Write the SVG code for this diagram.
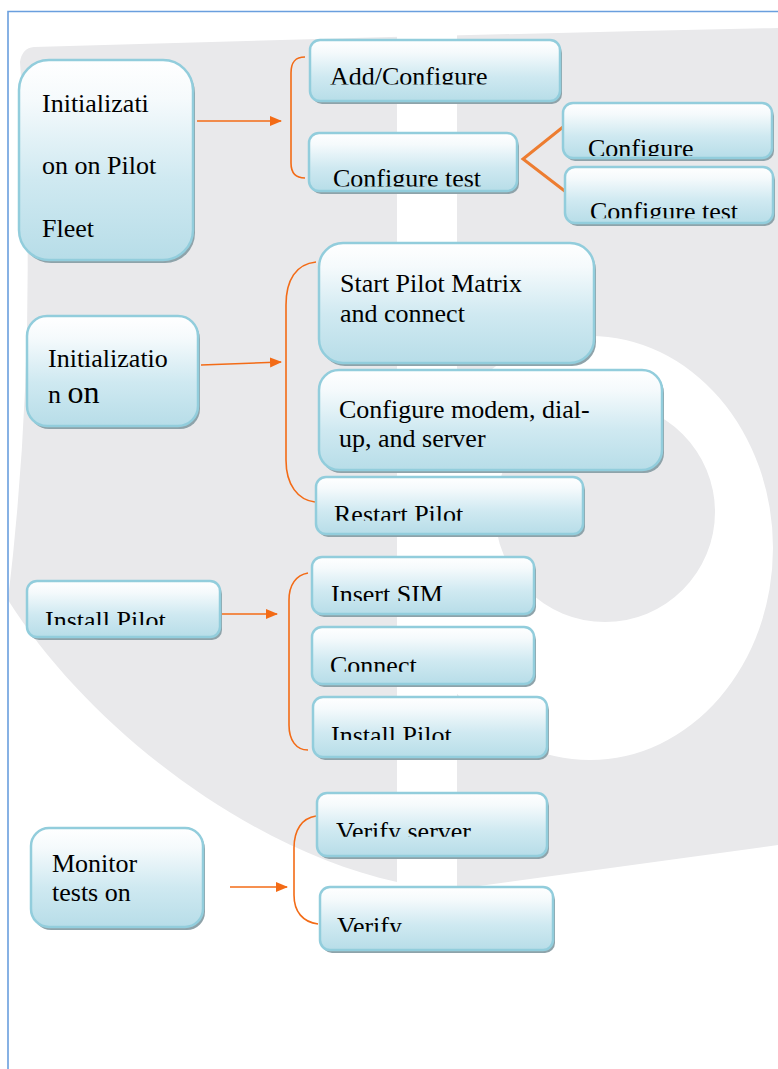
<svg xmlns="http://www.w3.org/2000/svg" width="778" height="1069" viewBox="0 0 778 1069">
<style>
.box{fill:url(#g);stroke:#92cddc;stroke-width:2.5}
.sh{fill:#8ea3aa}
.t{font-family:"Liberation Serif","Times New Roman",serif;font-size:26px;fill:#000}
.ln{fill:none;stroke:#f36b16;stroke-width:1.6}
.v{fill:none;stroke:#ed7d31;stroke-width:3}
</style>
<defs>
<linearGradient id="g" x1="0" y1="0" x2="0" y2="1">
<stop offset="0" stop-color="#ffffff"/>
<stop offset="0.2" stop-color="#f5fafc"/>
<stop offset="0.6" stop-color="#cfe9f1"/>
<stop offset="1" stop-color="#b7dde8"/>
</linearGradient>
<marker id="ah" markerUnits="userSpaceOnUse" markerWidth="12" markerHeight="12" viewBox="0 0 12 12" refX="11" refY="6" orient="auto">
<path d="M0,1 L12,6 L0,11 Z" fill="#f36b16"/>
</marker>
<clipPath id="c1"><rect x="300" y="0" width="300" height="84.5"/></clipPath>
<clipPath id="c2"><rect x="300" y="100" width="250" height="86.5"/></clipPath>
<clipPath id="c3"><rect x="560" y="100" width="218" height="56"/></clipPath>
<clipPath id="c4"><rect x="560" y="160" width="218" height="58.3"/></clipPath>
<clipPath id="c5"><rect x="300" y="470" width="300" height="50.7"/></clipPath>
<clipPath id="c6"><rect x="0" y="570" width="260" height="55"/></clipPath>
<clipPath id="c7"><rect x="300" y="550" width="260" height="51"/></clipPath>
<clipPath id="c8"><rect x="300" y="620" width="260" height="51.7"/></clipPath>
<clipPath id="c9"><rect x="300" y="690" width="260" height="50"/></clipPath>
<clipPath id="c10"><rect x="300" y="790" width="260" height="46.7"/></clipPath>
<clipPath id="c11"><rect x="300" y="880" width="260" height="51.7"/></clipPath>
</defs>
<rect width="778" height="1069" fill="#ffffff"/>
<g id="watermark">
<path d="M34,47 Q400,36 778,28 L778,845 L457,889 L397,882 C250,850 90,730 8,600 Q40,330 20,62 Q22,48 34,47 Z" fill="#e9e9eb"/>
<rect x="397" y="30" width="60" height="870" fill="#ffffff"/>
<path fill-rule="evenodd" fill="#ffffff" d="M407,548 A183,212 0 1 0 773,548 A183,212 0 1 0 407,548 Z M495,512 A110,110 0 1 1 715,512 A110,110 0 1 1 495,512 Z"/>
</g>
<path id="frame" d="M8,1069 L8,11.5 L778,11.5" fill="none" stroke="#6a9fde" stroke-width="1.6"/>
<g id="connectors">
<path class="ln" d="M197,121 L281,121" marker-end="url(#ah)"/>
<path class="ln" d="M201,365 L281,362" marker-end="url(#ah)"/>
<path class="ln" d="M222,614 L277,614" marker-end="url(#ah)"/>
<path class="ln" d="M230,887 L287,887" marker-end="url(#ah)"/>
<path class="ln" d="M305,57 C295,57 291,62 291,73 L291,163 C291,173 295,178 305,178"/>
<path class="ln" d="M316,262 C296,264 286,280 286,305 L286,460 C286,485 298,500 315,502"/>
<path class="ln" d="M308,573 C296,575 289,585 289,600 L289,725 C289,740 296,750 308,750"/>
<path class="ln" d="M316,816 C302,818 294,830 294,848 L294,895 C294,912 303,922 318,924"/>
<path class="v" d="M563,127 L523,159 L566,192"/>
</g>
<g id="n1"><rect class="sh" x="21" y="63" width="174" height="200" rx="30"/><rect class="box" x="19" y="60" width="174" height="200" rx="30"/>
<text class="t" x="42" y="112">Initializati</text><text class="t" x="42" y="174">on on Pilot</text><text class="t" x="42" y="237">Fleet</text></g>
<g id="n2"><rect class="sh" x="29" y="319" width="171" height="110" rx="20"/><rect class="box" x="27" y="316" width="171" height="110" rx="20"/>
<text class="t" x="48" y="367">Initializatio</text><text class="t" x="48" y="403">n <tspan font-size="32">on</tspan></text></g>
<g id="n3"><rect class="sh" x="312" y="43" width="250" height="61" rx="10"/><rect class="box" x="310" y="40" width="250" height="61" rx="10"/>
<text class="t" x="330" y="85" clip-path="url(#c1)">Add/Configure</text></g>
<g id="n4"><rect class="sh" x="311" y="136" width="208" height="58" rx="10"/><rect class="box" x="309" y="133" width="208" height="58" rx="10"/>
<text class="t" x="333" y="187" clip-path="url(#c2)">Configure test</text></g>
<g id="n5"><rect class="sh" x="565" y="106" width="209" height="55" rx="10"/><rect class="box" x="563" y="103" width="209" height="55" rx="10"/>
<text class="t" x="588" y="157" clip-path="url(#c3)">Configure</text></g>
<g id="n6"><rect class="sh" x="567" y="170" width="208" height="56" rx="10"/><rect class="box" x="565" y="167" width="208" height="56" rx="10"/>
<text class="t" x="590" y="220" clip-path="url(#c4)">Configure test</text></g>
<g id="n7"><rect class="sh" x="321" y="246" width="275" height="120" rx="24"/><rect class="box" x="319" y="243" width="275" height="120" rx="24"/>
<text class="t" x="340" y="292">Start Pilot Matrix</text><text class="t" x="340" y="322">and connect</text></g>
<g id="n8"><rect class="sh" x="321" y="373" width="343" height="100" rx="20"/><rect class="box" x="319" y="370" width="343" height="100" rx="20"/>
<text class="t" x="339" y="418">Configure modem, dial-</text><text class="t" x="339" y="447">up, and server</text></g>
<g id="n9"><rect class="sh" x="318" y="480" width="267" height="57" rx="10"/><rect class="box" x="316" y="477" width="267" height="57" rx="10"/>
<text class="t" x="334" y="523" clip-path="url(#c5)">Restart Pilot</text></g>
<g id="n10"><rect class="sh" x="29" y="584" width="193" height="56" rx="10"/><rect class="box" x="27" y="581" width="193" height="56" rx="10"/>
<text class="t" x="45" y="629" clip-path="url(#c6)">Install Pilot</text></g>
<g id="n11"><rect class="sh" x="314" y="560" width="222" height="57" rx="10"/><rect class="box" x="312" y="557" width="222" height="57" rx="10"/>
<text class="t" x="331" y="603" clip-path="url(#c7)">Insert SIM</text></g>
<g id="n12"><rect class="sh" x="314" y="630" width="222" height="57" rx="10"/><rect class="box" x="312" y="627" width="222" height="57" rx="10"/>
<text class="t" x="330" y="674" clip-path="url(#c8)">Connect</text></g>
<g id="n13"><rect class="sh" x="315" y="700" width="234" height="60" rx="10"/><rect class="box" x="313" y="697" width="234" height="60" rx="10"/>
<text class="t" x="331" y="743.5" clip-path="url(#c9)">Install Pilot</text></g>
<g id="n14"><rect class="sh" x="33" y="831" width="172" height="99" rx="18"/><rect class="box" x="31" y="828" width="172" height="99" rx="18"/>
<text class="t" x="52" y="872">Monitor</text><text class="t" x="52" y="901">tests on</text></g>
<g id="n15"><rect class="sh" x="319" y="796" width="230" height="63" rx="10"/><rect class="box" x="317" y="793" width="230" height="63" rx="10"/>
<text class="t" x="336" y="840" clip-path="url(#c10)">Verify server</text></g>
<g id="n16"><rect class="sh" x="322" y="890" width="233" height="63" rx="10"/><rect class="box" x="320" y="887" width="233" height="63" rx="10"/>
<text class="t" x="337" y="935" clip-path="url(#c11)">Verify</text></g>
</svg>
